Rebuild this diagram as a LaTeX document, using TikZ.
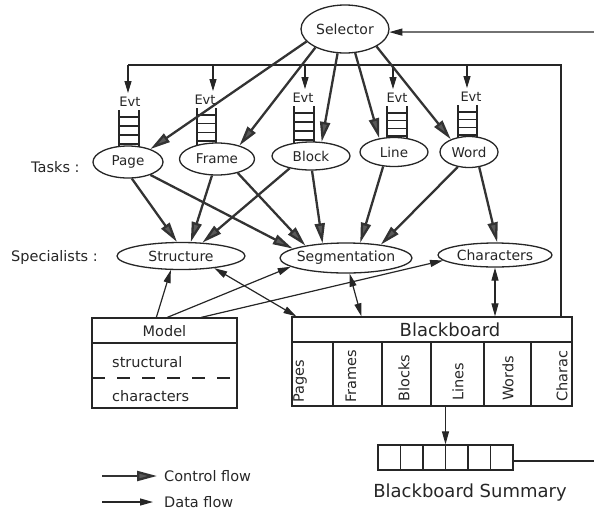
\documentclass[tikz,border=0pt]{standalone}
\usepackage{fontspec}
\setmainfont{DejaVu Sans}
\usetikzlibrary{shapes.geometric,arrows.meta}
\begin{document}
\begin{tikzpicture}[x=1pt,y=-1pt,
  every node/.style={text=black!85},
  ell/.style={ellipse,draw=black!85,line width=1.3pt,fill=white,inner xsep=-20pt,inner ysep=0pt},
  tsk/.style={ell,font=\fontsize{13.5}{15}\selectfont},
  spc/.style={ell,font=\fontsize{14}{16}\selectfont},
  box/.style={rectangle,draw=black!85,line width=1.3pt,inner sep=0pt},
  boxl/.style={draw=black!85,line width=1.3pt},
  lad/.style={draw=black!85,line width=1.2pt},
  lab/.style={font=\fontsize{14.5}{16}\selectfont,inner sep=0pt},
  evt/.style={font=\fontsize{13}{15}\selectfont,inner xsep=0pt,inner ysep=4pt},
  col/.style={font=\fontsize{14.5}{16}\selectfont,inner sep=1pt,rotate=90,anchor=west},
  ctrl/.style={line width=2.3pt,draw=black!80,-{Triangle[length=20pt,width=10pt,fill=black!65]}},
  data/.style={line width=1.2pt,draw=black!85,-{Triangle[length=13pt,width=7pt]}},
  bidata/.style={line width=1.2pt,draw=black!85,{Triangle[length=13pt,width=7pt]}-{Triangle[length=13pt,width=7pt]}},
  thinl/.style={line width=1.2pt,draw=black!85}
]
\useasboundingbox (0,0) rectangle (594,512);

% ladders (event queues)
\foreach \xa/\xb/\yt/\yb in {119/139/110/146, 197/216/108/143, 294/314/106/142, 387/407/106/138, 458/477/105/137} {
  \draw[lad] (\xa,\yt) -- (\xa,{\yb+4}) (\xb,\yt) -- (\xb,{\yb+4});
  \foreach \k in {0,1,2,3}
    \draw[lad] (\xa,{\yt+7+\k*(\yb-\yt-9)/3}) -- (\xb,{\yt+7+\k*(\yb-\yt-9)/3});
}

% nodes
\node[ell,minimum width=88pt,minimum height=48pt,font=\fontsize{14}{16}\selectfont] (Sel) at (345,29) {Selector};

\node[tsk,minimum width=70pt,minimum height=32pt] (Page) at (128,162) {Page};
\node[tsk,minimum width=75pt,minimum height=32pt] (Frame) at (217,159) {Frame};
\node[tsk,minimum width=78pt,minimum height=28pt] (Block) at (311,156) {Block};
\node[tsk,minimum width=68pt,minimum height=29pt] (Line) at (394,152) {Line};
\node[tsk,minimum width=58pt,minimum height=31pt] (Word) at (469,152) {Word};

\node[spc,minimum width=128pt,minimum height=27pt] (Struct) at (181,256) {Structure};
\node[spc,minimum width=132pt,minimum height=30pt] (Seg) at (346,258) {Segmentation};
\node[spc,minimum width=114pt,minimum height=24pt] (Chars) at (495,255) {Characters};

\node[lab,anchor=west] (TasksL) at (31,167) {Tasks :};
\node[lab,anchor=west] (SpecL) at (11,257) {Specialists :};

\node[evt] (e1) at (130,102) {Evt};
\node[evt] (e2) at (205,100) {Evt};
\node[evt] (e3) at (303,98) {Evt};
\node[evt] (e4) at (397,98) {Evt};
\node[evt] (e5) at (471,97) {Evt};

% Model box
\node[box,minimum width=145pt,minimum height=90pt] (Model) at (164.5,363) {};
\draw[boxl] (92,343) -- (237,343);
\draw[boxl,dash pattern=on 13pt off 12pt] (92,378) -- (237,378);
\node[lab] (ModelT) at (164.5,331) {Model};
\node[lab,anchor=west] (mStruct) at (112,362) {structural};
\node[lab,anchor=west] (mChars) at (112,396) {characters};

% Blackboard
\node[box,minimum width=280pt,minimum height=89pt] (BB) at (432,361.5) {};
\draw[boxl] (292,342) -- (572,342);
\foreach \cx in {333,382,431,484,531}
  \draw[boxl] (\cx,342) -- (\cx,406);
\node[font=\fontsize{18}{20}\selectfont,inner sep=0pt] (BBT) at (450,330) {Blackboard};
\node[col] (cPages) at (300,404) {Pages};
\node[col] (cFrames) at (351,404) {Frames};
\node[col] (cBlocks) at (404,403) {Blocks};
\node[col] (cLines) at (458,402) {Lines};
\node[col] (cWords) at (508,402) {Words};
\node[col] (cCharac) at (562,403) {Charac};

% Summary
\node[box,minimum width=135pt,minimum height=25pt] (Sum) at (445.5,457.5) {};
\foreach \i in {1,...,5}
  \draw[boxl] ({378+22.5*\i},445) -- ({378+22.5*\i},470);
\node[font=\fontsize{18}{20}\selectfont,inner sep=0pt] (SumT) at (470,493) {Blackboard Summary};

% event distribution line
\coordinate (evtL) at (128,65);
\coordinate (evtR) at (561,65);
\draw[thinl] (evtR |- BB.north) -- (evtR) -- (evtL);
\coordinate (d1) at (128,65);
\coordinate (d2) at (213,65);
\coordinate (d3) at (305,65);
\coordinate (d4) at (393,65);
\coordinate (d5) at (467,65);
\foreach \j in {1,...,5}
  \draw[line width=1.2pt,draw=black!85,-{Triangle[length=12pt,width=7pt]}] (d\j) -- (d\j |- e\j.north);

% feedback from summary to selector
\coordinate (fbT) at (594,32);
\coordinate (fbB) at (594,461);
\draw[data] (fbT) -- (Sel.356);
\draw[thinl] (Sum.east |- fbB) -- (fbB);

% control flow: selector -> tasks
\draw[ctrl] (Sel.198) -- (Page.30);
\draw[ctrl] (Sel.212) -- (Frame.31);
\draw[ctrl] (Sel.253) -- (Block.53);
\draw[ctrl] (Sel.293) -- (Line.137);
\draw[ctrl] (Sel.331) -- (Word.145);

% control flow: tasks -> specialists
\draw[ctrl] (Page.283) -- (Struct.106);
\draw[ctrl] (Page.330) -- (Seg.170);
\draw[ctrl] (Frame.253) -- (Struct.55);
\draw[ctrl] (Frame.326) -- (Seg.163);
\draw[ctrl] (Block.210) -- (Struct.32);
\draw[ctrl] (Block.274) -- (Seg.148);
\draw[ctrl] (Line.233) -- (Seg.47);
\draw[ctrl] (Word.233) -- (Seg.21);
\draw[ctrl] (Word.304) -- (Chars.80);

% data flow
\draw[data] ([xshift=65pt]Model.north west) -- (Struct.234);
\draw[data] ([xshift=76pt]Model.north west) -- (Seg.189);
\draw[data] ([xshift=110pt]Model.north west) -- (Chars.186);
\draw[bidata] (Struct.340) -- ([xshift=5pt]BB.north west);
\draw[bidata] (Seg.283) -- ([xshift=70pt]BB.north west);
\draw[bidata] (Chars.south) -- (Chars.south |- BB.north);
\draw[data] (BB.south -| Sum.north) -- (Sum.north);

% legend
\coordinate (lc) at (102,476);
\coordinate (ld) at (102,502);
\node[lab,anchor=west] (lct) at (164,476) {Control flow};
\node[lab,anchor=west] (ldt) at (164,502) {Data flow};
\draw[ctrl,shorten >=7pt] (lc) -- (lct.west);
\draw[data,shorten >=11pt] (ld) -- (ldt.west);
\end{tikzpicture}
\end{document}
